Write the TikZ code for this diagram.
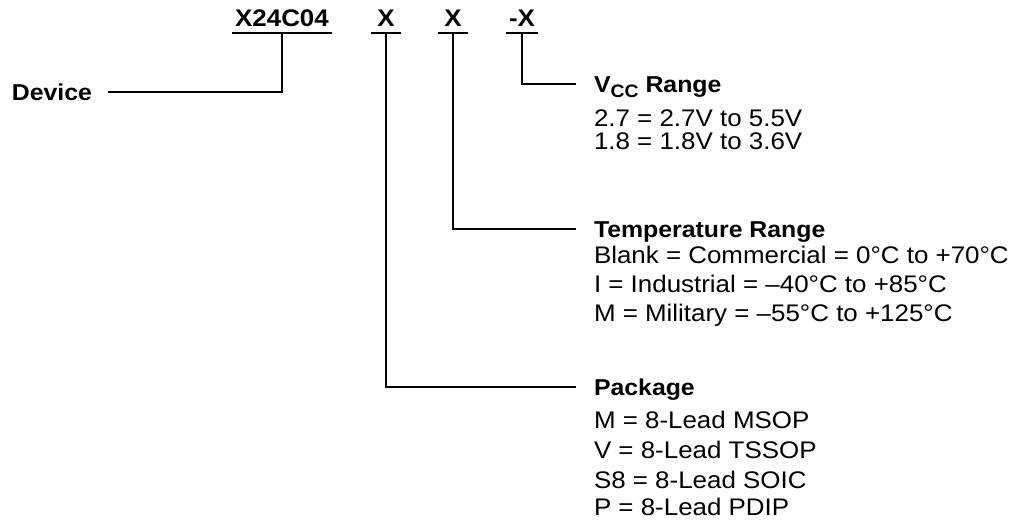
\documentclass[tikz,border=0pt]{standalone}
\usepackage{fontspec}
\setmainfont{Liberation Sans}[FakeStretch=1.08]
\usepackage{tikz}

\begin{document}
\begin{tikzpicture}[x=0.5pt, y=-0.5pt, line width=1pt,
    every node/.style={font=\fontsize{12}{14}\selectfont},
    code/.style={font=\fontsize{12}{14}\selectfont\bfseries, anchor=base, inner xsep=1pt, inner ysep=3pt, minimum width=14pt},
    head/.style={font=\fontsize{11.5}{13}\selectfont\bfseries, text height=8.2pt, text depth=0pt, inner ysep=0pt},
    item/.style={anchor=base west, inner sep=0pt}]
                \useasboundingbox (0,0) rectangle (1019,525);
                \def\tx{593}

                \node[code] (cdev) at (282,26) {X24C04};
                \node[code] (cpkg) at (386,26) {X};
                \node[code] (ctmp) at (453,26) {X};
                \node[code] (cvcc) at (522,26) {-X};
                \draw (cdev.south west) -- (cdev.south east);
                \draw (cpkg.south west) -- (cpkg.south east);
                \draw (ctmp.south west) -- (ctmp.south east);
                \draw (cvcc.south west) -- (cvcc.south east);

                \node[head, anchor=east, inner xsep=7.5pt] (device) at (108,92) {Device};
                \node[head, anchor=west, inner xsep=8.5pt] (vcc) at (576,84)
                    {V\raisebox{-0.45ex}{\fontsize{9}{10}\selectfont CC} Range};
                \node[head, anchor=west, inner xsep=8.5pt] (temp) at (576,229) {Temperature Range};
                \node[head, anchor=west, inner xsep=8.5pt] (pkg) at (576,387) {Package};

                \draw (device.east) -| (cdev.south);
                \draw (cvcc.south) |- (vcc.west);
                \draw (ctmp.south) |- (temp.west);
                \draw (cpkg.south) |- (pkg.west);

                \node[item] (v27) at (\tx,126) {2.7 = 2.7V to 5.5V};
                \node[item] (v18) at (\tx,149) {1.8 = 1.8V to 3.6V};

                \node[item] (tblank) at (\tx,263) {Blank = Commercial = 0°C to +70°C};
                \node[item] (tind) at (\tx,292) {I = Industrial = --40°C to +85°C};
                \node[item] (tmil) at (\tx,321) {M = Military = --55°C to +125°C};

                \node[item] (pm) at (\tx,428) {M = 8-Lead MSOP};
                \node[item] (pv) at (\tx,458) {V = 8-Lead TSSOP};
                \node[item] (ps) at (\tx,488) {S8 = 8-Lead SOIC};
                \node[item] (pp) at (\tx,515) {P = 8-Lead PDIP};
            \end{tikzpicture}
\end{document}
